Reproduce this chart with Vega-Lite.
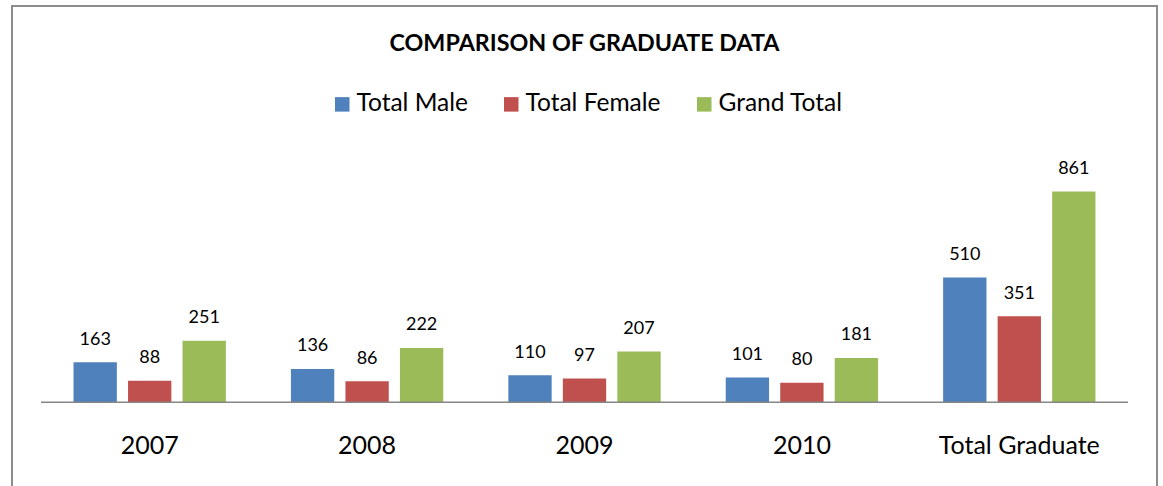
{
  "$schema": "https://vega.github.io/schema/vega-lite/v6.json",
  "autosize": "none",
  "width": 1145,
  "height": 486,
  "padding": {"left": 12, "top": 6, "right": 6, "bottom": -6},
  "background": "white",
  "config": {
    "view": {"stroke": "#8c8c8c", "strokeWidth": 2},
    "font": "Lato"
  },
  "title": {
    "text": "COMPARISON OF GRADUATE DATA",
    "anchor": "middle",
    "font": "Lato",
    "fontSize": 23.3,
    "fontWeight": "bold",
    "color": "black",
    "baseline": "alphabetic",
    "offset": -68
  },
  "data": {
    "values": [
      {"category": "2007", "series": "Total Male", "value": 163},
      {"category": "2007", "series": "Total Female", "value": 88},
      {"category": "2007", "series": "Grand Total", "value": 251},
      {"category": "2008", "series": "Total Male", "value": 136},
      {"category": "2008", "series": "Total Female", "value": 86},
      {"category": "2008", "series": "Grand Total", "value": 222},
      {"category": "2009", "series": "Total Male", "value": 110},
      {"category": "2009", "series": "Total Female", "value": 97},
      {"category": "2009", "series": "Grand Total", "value": 207},
      {"category": "2010", "series": "Total Male", "value": 101},
      {"category": "2010", "series": "Total Female", "value": 80},
      {"category": "2010", "series": "Grand Total", "value": 181},
      {"category": "Total Graduate", "series": "Total Male", "value": 510},
      {"category": "Total Graduate", "series": "Total Female", "value": 351},
      {"category": "Total Graduate", "series": "Grand Total", "value": 861}
    ]
  },
  "encoding": {
    "x": {
      "field": "category",
      "type": "nominal",
      "sort": null,
      "scale": {"paddingInner": 0, "paddingOuter": 0.1334},
      "axis": {
        "title": null,
        "orient": "bottom",
        "offset": -89.8,
        "domain": false,
        "ticks": false,
        "labelAngle": 0,
        "labelFont": "Lato",
        "labelFontSize": 25,
        "labelColor": "black",
        "labelBaseline": "alphabetic",
        "labelPadding": 51
      }
    },
    "y": {
      "field": "value",
      "type": "quantitative",
      "scale": {"domain": [-367.1, 1619.8], "nice": false, "zero": false},
      "axis": null
    },
    "xOffset": {
      "field": "series",
      "type": "nominal",
      "sort": ["Total Male", "Total Female", "Grand Total"],
      "scale": {"paddingInner": 0.205, "paddingOuter": 0.597}
    }
  },
  "layer": [
    {
      "mark": {"type": "bar"},
      "encoding": {
        "color": {
          "field": "series",
          "type": "nominal",
          "sort": ["Total Male", "Total Female", "Grand Total"],
          "scale": {
            "domain": ["Total Male", "Total Female", "Grand Total"],
            "range": ["#4F81BD", "#C0504D", "#9BBB59"]
          },
          "legend": {
            "title": null,
            "orient": "none",
            "direction": "horizontal",
            "legendX": 318,
            "legendY": 86,
            "symbolType": "square",
            "symbolSize": 210,
            "symbolStrokeWidth": 0,
            "labelFont": "Lato",
            "labelFontSize": 24.5,
            "labelColor": "black",
            "labelOffset": 2,
            "columnPadding": 31,
            "labelLimit": 300
          }
        }
      }
    },
    {
      "mark": {"type": "text", "dy": -17.5, "baseline": "alphabetic", "font": "Lato", "fontSize": 18, "color": "black"},
      "encoding": {"text": {"field": "value", "type": "quantitative"}}
    },
    {
      "data": {"values": [{"v": 0}]},
      "mark": {"type": "rule", "color": "#868686", "strokeWidth": 1.5},
      "encoding": {
        "x": {"datum": "2007", "bandPosition": 0},
        "x2": {"datum": "Total Graduate", "bandPosition": 1},
        "y": {"field": "v", "type": "quantitative"},
        "xOffset": null
      }
    }
  ]
}
